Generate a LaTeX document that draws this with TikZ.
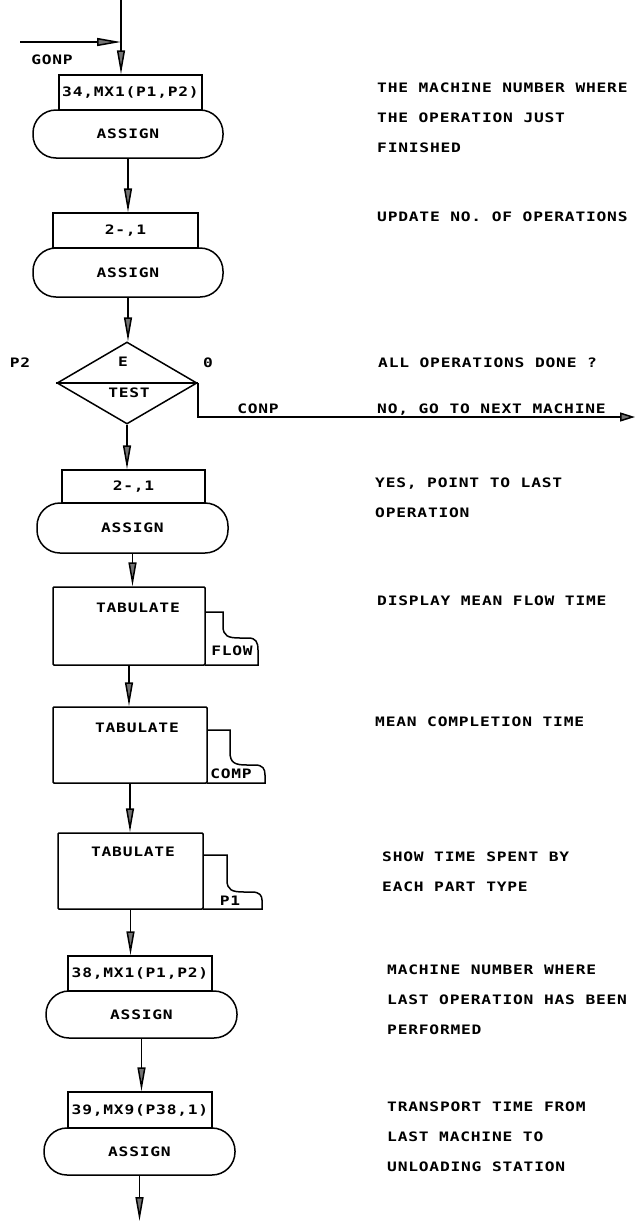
\documentclass[tikz,border=0pt]{standalone}
\usepackage{fontspec}
\newfontfamily\plotfont[FakeStretch=1.25,LetterSpace=6]{DejaVu Sans Mono Bold}
\usetikzlibrary{arrows.meta,shapes.geometric}

\tikzset{
  every node/.style={font=\plotfont\fontsize{13}{30}\selectfont, inner sep=0pt},
  wire/.style={line width=1.5pt},
  flow/.style={line width=1.5pt, -{Triangle[length=24pt,width=8pt,fill=black!55]}},
  parbox/.style={draw, line width=1.5pt, minimum height=35pt},
  assignbox/.style={draw, line width=1.5pt, rounded corners=23pt,
    minimum width=190pt, minimum height=48pt},
  tabbox/.style={draw, line width=1.5pt, rounded corners=1pt},
  note/.style={anchor=north west, align=left},
}

\begin{document}
\begin{tikzpicture}[x=1pt,y=-1pt]
    \useasboundingbox (0,0) rectangle (635,1221);

    % entry
    \coordinate (topin) at (121,0);
    \coordinate (gonpin) at (20,42);
    \coordinate (join) at (121,42);
    \draw[wire] (topin) -- (join);
    \draw[flow] (gonpin) -- (join);
    \node (gonp) at (52,60) {GONP};

    % machine number
    \node[parbox, minimum width=143pt] (b1) at (130.5,92.5) {34,MX1(P1,P2)};
    \node[assignbox] (a1) at (128,134) {ASSIGN};
    \draw[flow] (join) -- (join |- b1.north);

    % operations counter
    \node[parbox, minimum width=145pt] (b2) at (125.5,230.5) {2-,1};
    \node[assignbox, minimum height=49pt] (a2) at (128,272.5) {ASSIGN};
    \draw[flow] (a1.south) -- (a1.south |- b2.north);

    % test
    \node[draw, diamond, line width=1.5pt, minimum width=140pt, minimum height=82pt] (testd) at (127,383) {};
    \draw[wire] (testd.west) -- (testd.east);
    \node (teste) at (123,362) {E};
    \node (testt) at (129,393) {TEST};
    \node (testp) at (20,363) {P2};
    \node (testz) at (208,363) {0};
    \draw[flow] (a2.south) -- (a2.south |- testd.north);
    \coordinate (conpend) at (635,417);
    \draw[line width=1.5pt, -{Triangle[length=15pt,width=9pt,fill=black!55]}] (testd.east) |- (conpend);
    \node (conp) at (258,409) {CONP};

    % last operation
    \node[parbox, minimum width=143pt, minimum height=33pt] (b3) at (133.5,486.5) {2-,1};
    \node[assignbox, minimum width=191pt, minimum height=50pt] (a3) at (132.5,528) {ASSIGN};
    \draw[flow] (testd.south) -- (testd.south |- b3.north);

    % statistics
    \node[tabbox, minimum width=152pt, minimum height=78pt] (t1) at (129,626) {};
    \node (t1txt) at (138,608) {TABULATE};
    \draw[wire] (205,612) -- (223,612) -- (223,626) .. controls (223,636) and (228,638) .. (240,638)
        -- (248,638) .. controls (256,638) and (258,642) .. (258,650) -- (258,665) -- (205,665);
    \node (flow) at (232,651) {FLOW};
    \draw[flow] (a3.south) -- (a3.south |- t1.north);

    \node[tabbox, minimum width=154pt, minimum height=76pt] (t2) at (130,745) {};
    \node (t2txt) at (137,728) {TABULATE};
    \draw[wire] (207,730) -- (230,730) -- (230,752) .. controls (230,763) and (235,765) .. (247,765)
        -- (255,765) .. controls (263,765) and (265,769) .. (265,775) -- (265,783) -- (207,783);
    \node (comp) at (231,774) {COMP};
    \draw[flow] (t1.south) -- (t1.south |- t2.north);

    \node[tabbox, minimum width=145pt, minimum height=76pt] (t3) at (130.5,871) {};
    \node (t3txt) at (133,852) {TABULATE};
    \draw[wire] (203,855) -- (227,855) -- (227,880) .. controls (227,890) and (232,892) .. (244,892)
        -- (252,892) .. controls (260,892) and (262,896) .. (262,900) -- (262,909) -- (203,909);
    \node (pone) at (230,901) {P1};
    \draw[flow] (t2.south) -- (t2.south |- t3.north);

    % transport to unloading
    \node[parbox, minimum width=144pt] (b4) at (140,973.5) {38,MX1(P1,P2)};
    \node[assignbox, minimum width=191pt, minimum height=47pt] (a4) at (141.5,1014.5) {ASSIGN};
    \draw[flow] (t3.south) -- (t3.south |- b4.north);

    \node[parbox, minimum width=144pt, minimum height=36pt] (b5) at (140,1110) {39,MX9(P38,1)};
    \node[assignbox, minimum width=191pt, minimum height=47pt] (a5) at (139.5,1151.5) {ASSIGN};
    \draw[flow] (a4.south) -- (a4.south |- b5.north);

    \coordinate (exitpt) at (143,1221);
    \draw[flow] (a5.south) -- (a5.south |- exitpt);

    % comments
    \node[note] (n1) at (377,83) {THE MACHINE NUMBER WHERE\\THE OPERATION JUST\\FINISHED};
    \node[note] (n2) at (377,212) {UPDATE NO. OF OPERATIONS};
    \node[note] (n3) at (378,358) {ALL OPERATIONS DONE ?};
    \node[note] (n4) at (377,404) {NO, GO TO NEXT MACHINE};
    \node[note] (n5) at (375,478) {YES, POINT TO LAST\\OPERATION};
    \node[note] (n6) at (377,596) {DISPLAY MEAN FLOW TIME};
    \node[note] (n7) at (375,717) {MEAN COMPLETION TIME};
    \node[note] (n8) at (382,852) {SHOW TIME SPENT BY\\EACH PART TYPE};
    \node[note] (n9) at (387,965) {MACHINE NUMBER WHERE\\LAST OPERATION HAS BEEN\\PERFORMED};
    \node[note] (n10) at (387,1102) {TRANSPORT TIME FROM\\LAST MACHINE TO\\UNLOADING STATION};
\end{tikzpicture}
\end{document}
